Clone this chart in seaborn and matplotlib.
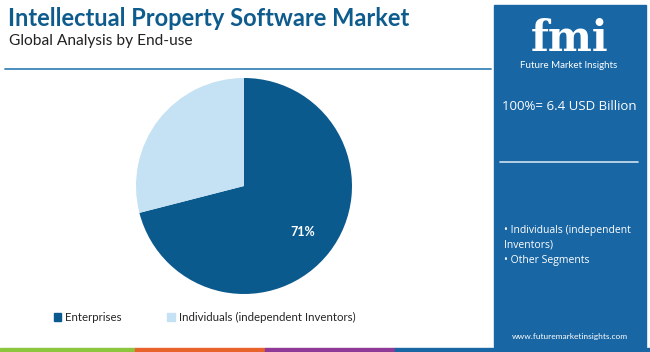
import matplotlib
matplotlib.use("Agg")
import matplotlib.pyplot as plt
import matplotlib.patches as mpatches
import seaborn as sns

# data
segments = ["Enterprises", "Individuals (independent Inventors)"]
shares = [71, 29]
seg_colors = ["#0b5a8e", "#c4e2f3"]
panel_items = ["Individuals (independent\nInventors)", "Other Segments"]

sns.set_theme(style="white")
plt.rcParams["font.family"] = ["Lato", "DejaVu Sans"]

fig = plt.figure(figsize=(6.5, 3.52), dpi=100)
fig.patch.set_facecolor("white")

# title and subtitle
fig.text(0.012, 0.947, "Intellectual Property Software Market", fontsize=17,
         fontweight="bold", color="#0e5b8d", va="center")
fig.text(0.014, 0.884, "Global Analysis by End-use", fontsize=11.2,
         color="#222222", va="center")
fig.add_artist(plt.Line2D([0.008, 0.755], [0.803, 0.803], color="#3d86b8", lw=1.3))

# pie
ax = fig.add_axes([(244 - 108) / 650, 1 - (186 + 108) / 352, 216 / 650, 216 / 352])
wedges, _ = ax.pie(shares, colors=seg_colors, startangle=90, counterclock=False,
                   wedgeprops=dict(linewidth=0))
ax.set_xlim(-1, 1)
ax.set_ylim(-1, 1)
ax.set_aspect("equal")
ax.text(0.54, -0.43, "71%", color="white", fontsize=9, fontweight="bold",
        ha="center", va="center")

# legend
handles = [mpatches.Patch(color=c, label=l) for c, l in zip(seg_colors, segments)]
fig.legend(handles=handles, loc="center left", bbox_to_anchor=(0.083, 0.097), ncol=2,
           frameon=False, handlelength=0.65, handleheight=0.65,
           handletextpad=0.35, columnspacing=3.9, borderaxespad=0, borderpad=0,
           prop={"size": 8.3})

# right panel
fig.add_artist(mpatches.Rectangle((494 / 650, 0.014), 152 / 650, 0.972,
                                  transform=fig.transFigure, color="#1866a4", zorder=0))
fig.text(570 / 650, 1 - 51 / 352, "fmi", fontsize=30, fontweight="bold", color="white",
         ha="center", va="baseline", family=["DejaVu Serif"])
fig.text(569 / 650, 1 - 66 / 352, "Future Market Insights", fontsize=7, color="white",
         ha="center", va="center")
fig.text(569 / 650, 0.697, "100%= 6.4 USD Billion", fontsize=9.5, color="white",
         ha="center", va="center", family=["Open Sans", "DejaVu Sans"])
fig.add_artist(plt.Line2D([500 / 650, 638 / 650], [0.54, 0.54], color="#d0e2f0", lw=1.2))
fig.text(504 / 650, 0.325, "\u2022 " + panel_items[0], fontsize=7.5, color="white",
         va="center", linespacing=1.5, family=["Open Sans", "DejaVu Sans"])
fig.text(504 / 650, 0.26, "\u2022 " + panel_items[1], fontsize=7.5, color="white",
         va="center", family=["Open Sans", "DejaVu Sans"])
fig.text(570 / 650, 0.045, "www.futuremarketinsights.com", fontsize=6, color="white",
         ha="center", va="center")

# bottom strip
for x0, x1, c in [(0, 135, "#8cc63f"), (135, 265, "#e8632b"),
                  (265, 395, "#8e3a96"), (395, 650, "#1866a4")]:
    fig.add_artist(mpatches.Rectangle((x0 / 650, 0), (x1 - x0) / 650, 0.012,
                                      transform=fig.transFigure, color=c))

fig.savefig("out.png", dpi=100, facecolor="white")
